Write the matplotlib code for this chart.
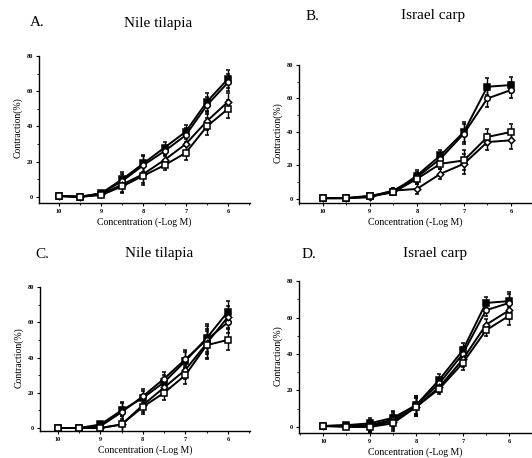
import numpy as np
import matplotlib.pyplot as plt
from matplotlib.ticker import MultipleLocator

plt.rcParams['font.family'] = ['Liberation Serif', 'DejaVu Serif']

# -log M concentrations
conc = [10, 9.5, 9, 8.5, 8, 7.5, 7, 6.5, 6]

# Panel A - Nile tilapia
a_s1 = [0.5, 0, 2, 10, 19, 28, 37, 54, 67]
a_s2 = [0.5, 0, 2, 9, 18, 26, 35, 52, 65]
a_s3 = [0.5, 0, 1.5, 7, 13, 21, 30, 43, 54]
a_s4 = [0.5, 0, 1, 6, 12, 18, 25, 40, 50]
a_err = [0.3, 0.3, 1, 4, 5, 3, 4, 5, 5]

# Panel B - Israel carp
b_s1 = [0.5, 0.5, 1.5, 4, 14, 26, 40, 67, 68]
b_s2 = [0.5, 0.5, 1.5, 5, 13, 24, 39, 60, 65]
b_s3 = [0.5, 0.5, 1, 5, 6, 15, 21, 34, 35]
b_s4 = [0.5, 0.5, 2, 4, 12, 21, 23, 37, 40]
b_err = [0.3, 0.3, 1, 1.5, 3, 3, 6, 5, 5]

# Panel C - Nile tilapia
c_s1 = [0, 0, 2, 10, 17, 26, 38, 51, 66]
c_s2 = [0, 0, 1, 9, 18, 28, 39, 50, 60]
c_s3 = [0, 0, 0, 2, 13, 23, 33, 48, 63]
c_s4 = [0, 0, 0, 2, 12, 20, 30, 47, 50]
c_err = [0.3, 0.3, 1, 5, 4, 4, 5, 8, 6]

# Panel D - Israel carp
d_s1 = [0.5, 1, 2, 5, 12, 26, 42, 68, 69]
d_s2 = [0.5, 1, 1, 4, 12, 24, 40, 64, 68]
d_s3 = [0.5, 0.5, 0.5, 3, 11, 22, 37, 56, 64]
d_s4 = [0.5, 0, 0, 2, 11, 21, 35, 53, 61]
d_err = [0.3, 0.5, 3, 4, 5, 3, 4, 3, 5]

markers = [('s', 'black'), ('o', 'white'), ('D', 'white'), ('s', 'white')]

W, H = 532, 458
fig = plt.figure(figsize=(W / 100, H / 100), dpi=100)


def px_axes(left, right, bottom, top):
    return fig.add_axes([left / W, 1 - bottom / H, (right - left) / W, (bottom - top) / H])


def draw(ax, series, err, xlim, ylim):
    for (m, fc), s in zip(markers, series):
        ax.errorbar(conc, s, yerr=err, color='black', lw=1.4, marker=m,
                    ms=4.0 if m != 'D' else 3.3, mfc=fc, mec='black', mew=1.1,
                    elinewidth=1.0, capsize=1.6, capthick=1.0)
    ax.set_xlim(*xlim)
    ax.set_ylim(*ylim)
    ax.set_xticks([10, 9, 8, 7, 6])
    ax.set_xticklabels(['10', '9', '8', '7', '6'])
    ax.xaxis.set_minor_locator(MultipleLocator(0.5))
    ax.set_yticks([0, 20, 40, 60, 80])
    ax.yaxis.set_minor_locator(MultipleLocator(10))
    ax.tick_params(labelsize=4.5, length=2.5, width=0.8, pad=2)
    ax.tick_params(which='minor', length=1.5, width=0.6)
    for lab in ax.get_xticklabels() + ax.get_yticklabels():
        lab.set_fontweight('bold')
    for sp in ['top', 'right']:
        ax.spines[sp].set_visible(False)
    for sp in ['left', 'bottom']:
        ax.spines[sp].set_linewidth(1.0)
    ax.spines['left'].set_bounds(ylim[0], 80)
    ax.set_xlabel('Concentration (-Log M)', fontsize=7, labelpad=2)
    ax.set_ylabel('Contraction(%)', fontsize=7, labelpad=3)


axA = px_axes(39, 250, 203, 52.5)
draw(axA, [a_s1, a_s2, a_s3, a_s4], a_err, (10.47, 5.48), (-3.5, 82))
axB = px_axes(299, 532, 203, 61.6)
draw(axB, [b_s1, b_s2, b_s3, b_s4], b_err, (10.51, 5.55), (-2.4, 82))
axC = px_axes(40, 250, 431, 283.5)
draw(axC, [c_s1, c_s2, c_s3, c_s4], c_err, (10.42, 5.48), (-1.7, 82))
axD = px_axes(299, 532, 433, 277.4)
draw(axD, [d_s1, d_s2, d_s3, d_s4], d_err, (10.52, 5.51), (-3.3, 82))

titles = [('A.', 30, 23, 'Nile tilapia', 158, 23),
          ('B.', 306, 16, 'Israel carp', 433, 16),
          ('C.', 35, 254, 'Nile tilapia', 159, 254),
          ('D.', 302, 254, 'Israel carp', 435, 253)]
for lab, lx, ly, name, nx, ny in titles:
    fig.text(lx / W, 1 - ly / H, lab, fontsize=11, ha='left', va='center')
    fig.text(nx / W, 1 - ny / H, name, fontsize=11, ha='center', va='center')

fig.savefig('out.png', dpi=100)
